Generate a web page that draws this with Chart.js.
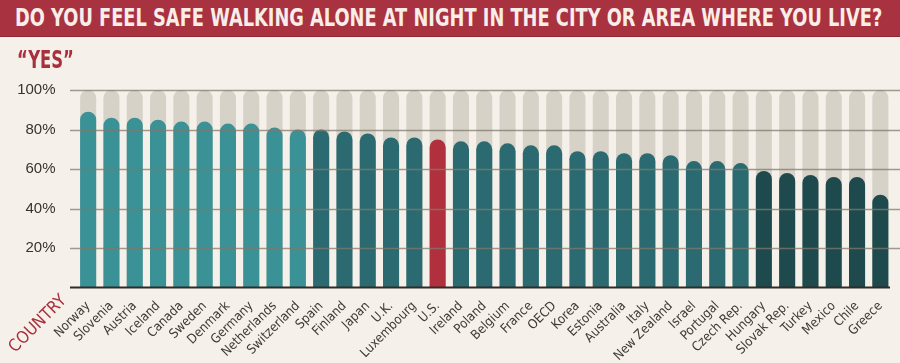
<!DOCTYPE html>
<html>
<head>
<meta charset="utf-8">
<script src="https://cdn.jsdelivr.net/npm/chart.js"></script>
<style>
  html, body { margin: 0; padding: 0; background: #f5f1ea; }
  #wrap { position: relative; width: 900px; height: 363px; overflow: hidden; }
  #title {
    position: absolute; left: 0; top: 0; width: 900px; height: 36px;
    background: #a8323f; border-bottom: 1px solid #8c2833;
    color: #f8ede8; font: bold 24px "Liberation Sans Narrow", "DejaVu Sans Condensed", sans-serif;
    line-height: 37px; white-space: nowrap;
  }
  #title span { display: inline-block; margin-left: 15px; transform-origin: left center; }
  #yes {
    position: absolute; left: 17px; top: 45px; transform-origin: left top;
    color: #a8303c; font: bold 25px "Liberation Sans Narrow", "DejaVu Sans Condensed", sans-serif;
  }
  canvas { position: absolute; left: 0; top: 0; }
</style>
</head>
<body>
<div id="wrap">
  <canvas id="chart" width="900" height="363"></canvas>
  <div id="title"><span>DO YOU FEEL SAFE WALKING ALONE AT NIGHT IN THE CITY OR AREA WHERE YOU LIVE?</span></div>
  <div id="yes">“YES”</div>
</div>
<script>
const countries = [
  "Norway", "Slovenia", "Austria", "Iceland", "Canada", "Sweden", "Denmark", "Germany",
  "Netherlands", "Switzerland", "Spain", "Finland", "Japan", "U.K.", "Luxembourg", "U.S.",
  "Ireland", "Poland", "Belgium", "France", "OECD", "Korea", "Estonia", "Australia", "Italy",
  "New Zealand", "Israel", "Portugal", "Czech Rep.", "Hungary", "Slovak Rep.", "Turkey",
  "Mexico", "Chile", "Greece"
];
const yesValues = [
  89, 86, 86, 85, 84, 84, 83, 83, 81, 80, 80, 79, 78, 76, 76, 75,
  74, 74, 73, 72, 72, 69, 69, 68, 68, 67, 64, 64, 63, 59, 58, 57,
  56, 56, 47
];
const fullValues = [
  100, 100, 100, 100, 100, 100, 100, 100, 100, 100, 100, 100, 100, 100, 100, 100,
  100, 100, 100, 100, 100, 100, 100, 100, 100, 100, 100, 100, 100, 100, 100, 100,
  100, 100, 100
];
const yTicks = [20, 40, 60, 80, 100];

// squeeze the headline and the "YES" to the reference widths
const t = document.querySelector('#title span');
t.style.transform = 'scaleX(' + (867 / t.offsetWidth) + ')';
const yes = document.getElementById('yes');
yes.style.transform = 'scaleX(' + (57 / yes.offsetWidth) + ')';

function barColor(ctx) {
  const name = countries[ctx.dataIndex];
  if (name === "U.S.") return "#b0303e";
  if (ctx.dataIndex < 10) return "#3a9196";
  if (ctx.dataIndex < 29) return "#2a6a70";
  return "#1e4a4e";
}

const narrow = '"Liberation Sans Narrow", "DejaVu Sans Condensed", sans-serif';

const extras = {
  id: 'extras',
  afterDatasetsDraw(chart) {
    const c = chart.ctx, y = chart.scales.y;
    c.save();
    c.strokeStyle = 'rgba(130,122,110,0.75)';
    c.lineWidth = 1.5;
    yTicks.forEach(v => {
      const py = Math.round(y.getPixelForValue(v)) + 0.5;
      c.beginPath(); c.moveTo(70, py); c.lineTo(900, py); c.stroke();
    });
    const base = y.getPixelForValue(0);
    c.strokeStyle = '#2e2b28';
    c.lineWidth = 2;
    c.beginPath(); c.moveTo(70, base); c.lineTo(890, base); c.stroke();
    c.translate(58, 292);
    c.rotate(-Math.PI / 4);
    c.fillStyle = '#a8303c';
    c.font = '17px ' + narrow;
    c.textAlign = 'right';
    c.textBaseline = 'top';
    c.fillText('COUNTRY', 0, 0);
    c.restore();
  }
};

new Chart(document.getElementById('chart'), {
  type: 'bar',
  data: {
    labels: countries,
    datasets: [
      {
        data: yesValues,
        backgroundColor: barColor,
        borderRadius: { topLeft: 20, topRight: 20 },
        borderSkipped: 'start',
        grouped: false,
        order: 1,
        barPercentage: 0.69,
        categoryPercentage: 1
      },
      {
        data: fullValues,
        backgroundColor: '#d6d2c8',
        borderRadius: { topLeft: 20, topRight: 20 },
        borderSkipped: 'start',
        grouped: false,
        order: 2,
        barPercentage: 0.69,
        categoryPercentage: 1
      }
    ]
  },
  options: {
    responsive: false,
    animation: false,
    layout: { padding: { left: 0, right: 8, top: 90, bottom: 0 } },
    plugins: { legend: { display: false }, tooltip: { enabled: false } },
    scales: {
      x: {
        grid: { display: false },
        border: { display: false },
        ticks: {
          minRotation: 45, maxRotation: 45, autoSkip: false,
          color: '#3f3a35', font: { family: narrow, size: 13 }, padding: 3
        },
        afterFit(s) { s.height = 75.5; }
      },
      y: {
        min: 0, max: 100,
        grid: { display: false },
        border: { display: false },
        afterBuildTicks(s) { s.ticks = [0].concat(yTicks).map(v => ({ value: v })); },
        ticks: {
          color: '#36332f', font: { family: '"Liberation Sans", Arial, sans-serif', size: 15 },
          padding: 13,
          callback: v => v === 0 ? '' : v + '%'
        },
        afterFit(s) { s.width = 76.5; }
      }
    }
  },
  plugins: [extras]
});
</script>
</body>
</html>
